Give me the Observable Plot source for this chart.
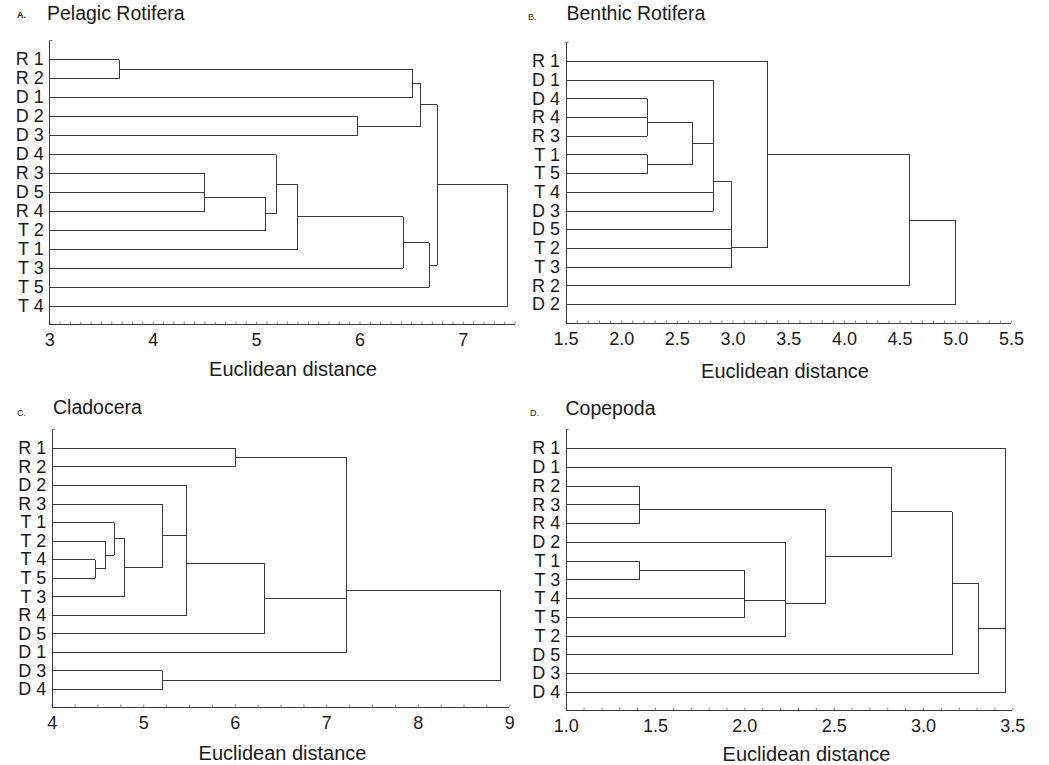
<!DOCTYPE html>
<html>
<head>
<meta charset="utf-8">
<script src="https://cdn.jsdelivr.net/npm/d3@7"></script>
<script src="https://cdn.jsdelivr.net/npm/@observablehq/plot@0.6"></script>
<style>
  html, body { margin: 0; padding: 0; background: #fff; }
  #page { position: relative; width: 1049px; height: 765px; overflow: hidden; background: #fff;
          font-family: "Liberation Sans", Arial, sans-serif; color: #1a1a1a; }
  .lbl { position: absolute; white-space: nowrap; line-height: 1; }
  .panel { position: absolute; }
</style>
</head>
<body>
<div id="page"></div>
<script>
// ---------------- DATA ----------------
// Panel A: Pelagic Rotifera
const pelagicLeaves = ["R 1","R 2","D 1","D 2","D 3","D 4","R 3","D 5","R 4","T 2","T 1","T 3","T 5","T 4"];
// [childA, childB, distance]; "cK" refers to the K-th merge
const pelagicMerges = [
  ["R 1","R 2",3.67], ["c0","D 1",6.51], ["D 2","D 3",5.98], ["c1","c2",6.59],
  ["R 3","D 5",4.50], ["c4","R 4",4.50], ["c5","T 2",5.09], ["D 4","c6",5.19],
  ["c7","T 1",5.40], ["c8","T 3",6.42], ["c9","T 5",6.67], ["c3","c10",6.75],
  ["c11","T 4",7.43]
];
const pelagicTicks = [3,4,5,6,7];

// Panel B: Benthic Rotifera
const benthicLeaves = ["R 1","D 1","D 4","R 4","R 3","T 1","T 5","T 4","D 3","D 5","T 2","T 3","R 2","D 2"];
const benthicMerges = [
  ["D 4","R 4",2.23], ["c0","R 3",2.23], ["T 1","T 5",2.23], ["c1","c2",2.64],
  ["D 1","c3",2.82], ["c4","T 4",2.82], ["c5","D 3",2.82], ["c6","D 5",2.99],
  ["c7","T 2",2.99], ["c8","T 3",2.99], ["R 1","c9",3.31], ["c10","R 2",4.58],
  ["c11","D 2",5.00]
];
const benthicTicks = [1.5,2.0,2.5,3.0,3.5,4.0,4.5,5.0,5.5];

// Panel C: Cladocera
const cladoLeaves = ["R 1","R 2","D 2","R 3","T 1","T 2","T 4","T 5","T 3","R 4","D 5","D 1","D 3","D 4"];
const cladoMerges = [
  ["R 1","R 2",6.00], ["T 4","T 5",4.47], ["T 2","c1",4.58], ["T 1","c2",4.68],
  ["c3","T 3",4.79], ["R 3","c4",5.20], ["D 2","c5",5.47], ["c6","R 4",5.47],
  ["c7","D 5",6.32], ["c0","c8",7.22], ["c9","D 1",7.22], ["D 3","D 4",5.20],
  ["c10","c11",8.90]
];
const cladoTicks = [4,5,6,7,8,9];

// Panel D: Copepoda
const copeLeaves = ["R 1","D 1","R 2","R 3","R 4","D 2","T 1","T 3","T 4","T 5","T 2","D 5","D 3","D 4"];
const copeMerges = [
  ["R 2","R 3",1.41], ["c0","R 4",1.41], ["T 1","T 3",1.41], ["c2","T 4",2.00],
  ["c3","T 5",2.00], ["D 2","c4",2.23], ["c5","T 2",2.23], ["c1","c6",2.45],
  ["D 1","c7",2.82], ["c8","D 5",3.16], ["c9","D 3",3.31], ["R 1","c10",3.46],
  ["c11","D 4",3.46]
];
const copeTicks = [1.0,1.5,2.0,2.5,3.0,3.5];

const axisTitle = "Euclidean distance";

// ---------------- LAYOUT ----------------
const panels = [
  { letter: "A.", bold: true, title: "Pelagic Rotifera", leaves: pelagicLeaves, merges: pelagicMerges,
    ticks: pelagicTicks, dec: 0, xDomain: [3, 7.5], minorStep: 0.1,
    left: 0, top: 30, width: 524, height: 355, ml: 49.3, mr: 9.5, mt: 10, mb: 61, yDomain: [-1.01, 13.95],
    letterPos: [17, 18.5], titlePos: [47, 20.3], axisPos: [293, 375.5] },
  { letter: "B.", bold: false, title: "Benthic Rotifera", leaves: benthicLeaves, merges: benthicMerges,
    ticks: benthicTicks, dec: 1, xDomain: [1.5, 5.5], minorStep: 0.1,
    left: 520, top: 30, width: 524, height: 355, ml: 45.5, mr: 33, mt: 12, mb: 62, yDomain: [-1.02, 14.02],
    letterPos: [528, 20.5], titlePos: [566.5, 20.7], axisPos: [785, 378] },
  { letter: "C.", bold: false, title: "Cladocera", leaves: cladoLeaves, merges: cladoMerges,
    ticks: cladoTicks, dec: 0, xDomain: [4, 9], minorStep: 0.25,
    left: 0, top: 418, width: 524, height: 340, ml: 51.7, mr: 14.7, mt: 11, mb: 51, yDomain: [-1.02, 13.97],
    letterPos: [17, 416.5], titlePos: [53, 415], axisPos: [282.5, 760] },
  { letter: "D.", bold: false, title: "Copepoda", leaves: copeLeaves, merges: copeMerges,
    ticks: copeTicks, dec: 1, xDomain: [1.0, 3.5], minorStep: 0.1,
    left: 520, top: 418, width: 524, height: 340, ml: 45.7, mr: 31.7, mt: 11, mb: 48, yDomain: [-1.01, 13.96],
    letterPos: [530, 416.5], titlePos: [565.5, 416], axisPos: [806.5, 760.5] }
];

const page = document.getElementById("page");

function addText(txt, x, baseline, fs, opts = {}) {
  const d = document.createElement("div");
  d.className = "lbl";
  d.textContent = txt;
  d.style.fontSize = fs + "px";
  d.style.left = x + "px";
  d.style.top = (baseline - 0.8465 * fs) + "px";
  if (opts.bold) d.style.fontWeight = "bold";
  if (opts.center) d.style.transform = "translateX(-50%)";
  page.appendChild(d);
}

function segments(leaves, merges, x0) {
  const nodes = new Map();
  leaves.forEach((l, i) => nodes.set(l, { x: x0, y: i }));
  const segs = [];
  merges.forEach(([a, b, h], k) => {
    const A = nodes.get(a), B = nodes.get(b);
    segs.push({ x1: A.x, y1: A.y, x2: h, y2: A.y });
    segs.push({ x1: B.x, y1: B.y, x2: h, y2: B.y });
    segs.push({ x1: h, y1: A.y, x2: h, y2: B.y });
    nodes.set("c" + k, { x: h, y: (A.y + B.y) / 2 });
  });
  return segs;
}

const LINE = "#3a3a3a";
for (const p of panels) {
  const segs = segments(p.leaves, p.merges, p.xDomain[0]);
  const unitsPerPx = (p.yDomain[1] - p.yDomain[0]) / (p.height - p.mt - p.mb);
  const xUnitsPerPx = (p.xDomain[1] - p.xDomain[0]) / (p.width - p.ml - p.mr);
  const yBottom = p.yDomain[1], yTop = p.yDomain[0];
  const minor = d3.range(p.xDomain[0], p.xDomain[1] + 1e-9, p.minorStep);
  const chart = Plot.plot({
    width: p.width, height: p.height,
    marginLeft: p.ml, marginRight: p.mr, marginTop: p.mt, marginBottom: p.mb,
    x: { domain: p.xDomain, axis: null },
    y: { domain: p.yDomain, reverse: true, axis: null },
    style: { fontFamily: "'Liberation Sans', Arial, sans-serif", fontSize: "18px", color: "#1a1a1a",
             background: "transparent", overflow: "visible" },
    marks: [
      Plot.ruleX(minor, { x: d => d, y1: yBottom, y2: yBottom - 2.5 * unitsPerPx, stroke: "#888", strokeWidth: 1 }),
      Plot.ruleX([p.xDomain[0]], { stroke: LINE, strokeWidth: 1, shapeRendering: "crispEdges" }),
      Plot.ruleY([yBottom], { stroke: LINE, strokeWidth: 1, shapeRendering: "crispEdges" }),
      Plot.ruleY([yTop], { x1: p.xDomain[0], x2: p.xDomain[0] + 3 * xUnitsPerPx, stroke: "#777", strokeWidth: 1 }),
      Plot.link(segs, { x1: "x1", y1: "y1", x2: "x2", y2: "y2", stroke: LINE, strokeWidth: 1,
                        shapeRendering: "crispEdges" }),
      Plot.axisY(d3.range(p.leaves.length), { tickSize: 0, tickPadding: 6, tickFormat: i => p.leaves[i],
        fontSize: 18, label: null }),
      Plot.axisX(p.ticks, { tickSize: 0, tickPadding: 9, tickFormat: d => d.toFixed(p.dec),
        fontSize: 18, label: null })
    ]
  });
  const wrap = document.createElement("div");
  wrap.className = "panel";
  wrap.style.left = p.left + "px";
  wrap.style.top = p.top + "px";
  wrap.appendChild(chart);
  page.appendChild(wrap);

  addText(p.letter, p.letterPos[0], p.letterPos[1], 9, { bold: p.bold });
  addText(p.title, p.titlePos[0], p.titlePos[1], 19.5);
  addText(axisTitle, p.axisPos[0], p.axisPos[1], 20, { center: true });
}
</script>
</body>
</html>
